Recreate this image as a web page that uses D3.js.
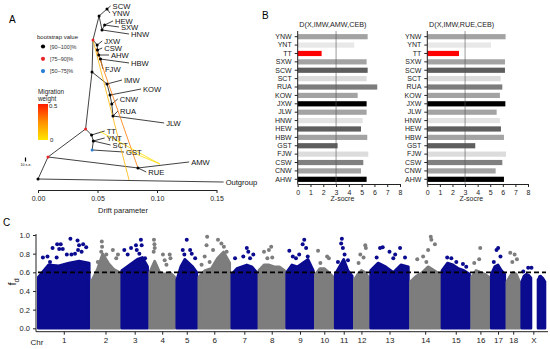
<!DOCTYPE html>
<html>
<head>
<meta charset="utf-8">
<script src="https://cdn.jsdelivr.net/npm/d3@7"></script>
<style>
  body { margin: 0; background: #fff; }
  svg { display: block; font-family: "Liberation Sans", Arial, sans-serif; }
</style>
</head>
<body>
<svg id="fig" width="550" height="349"></svg>
<script>
// ---------- data: panel A (treemix tree) ----------
var nodeId = ["root","Outgroup","n1","nRUE","RUE","AMW","n2","nTT","TT","nY","YNT","SCT","nB","GST",
  "n3","a","IMW","b","KOW","c","CNW","d","RUA","JLW","T","U","u2","SCW","YNW","V","v2","HEW","SXW","HNW",
  "j1","JXW","j2","CSW","j3","AHW","j4","HBW","FJW"];
var nodeParent = [null,"root","root","n1","nRUE","nRUE","n1","n2","nTT","nTT","nY","nY","nY","nB",
  "n2","n3","a","a","b","b","c","c","d","d","n3","T","U","u2","u2","U","V","v2","v2","V",
  "T","j1","j1","j2","j2","j3","j3","j4","j4"];
var nodeDrift = [0,0.156,0.0084,0.084,0.091,0.127,0.040,0.045,0.056,0.0465,0.056,0.061,0.0455,0.0723,
  0.0454,0.058,0.0706,0.0605,0.0866,0.062,0.067,0.063,0.0672,0.106,0.0462,0.0513,0.058,0.061,0.0605,0.0538,0.056,0.063,0.068,0.0765,
  0.0497,0.054,0.050,0.054,0.051,0.0597,0.0525,0.0765,0.0546];
// vertical order of the tree, in row units
var nodeRow = [29.17,29.67,25.5,27.33,28,26.33,20.83,21.83,21.17,22.83,22.33,23.5,24.33,24.67,
  11.33,13.33,12.67,15.17,14.17,16.67,15.83,18.67,17.83,19.83,6,2,0.83,0.33,1.5,4.33,3.5,2.83,3.83,5,
  6.83,6.17,7.67,7.33,8.5,8.5,9.17,9.83,10.83];
// bootstrap class of internal nodes: 3 = [90-100], 2 = [75-90], 1 = [50-75]
var nodeBoot = [3,0,2,3,0,0,2,3,0,3,0,0,1,0,
  3,3,0,3,0,3,0,3,0,0,2,3,3,0,0,3,3,0,0,0,
  3,0,3,0,3,0,3,0,0];
var migFromDrift = [0.0462,0.0487,0.0521,0.0743];
var migFromRow = [6,7.33,21.25,24.33];
var migToDrift = [0.0765,0.084,0.1025,0.1025];
var migToRow = [29.33,27.33,26.67,26.67];
var migWeight = [0.14,0.3,0.03,0.03];
var driftTicks = [0,0.05,0.10,0.15];

// ---------- data: panel B (D statistics) ----------
var popRows = ["YNW","YNT","TT","SXW","SCW","SCT","RUA","KOW","JXW","JLW","HNW","HEW","HBW","GST","FJW","CSW","CNW","AHW"];
var zAMW = [5.47,4.42,1.87,5.39,5.47,5.39,6.22,4.69,5.39,5.39,5.08,4.95,5.44,3.12,5.52,5.13,4.95,5.39];
var zRUE = [6.22,5.06,2.52,6.17,6.17,5.83,5.96,5.77,6.2,5.51,5.77,5.85,6.09,3.81,6.25,5.96,5.43,6.09];
var barColors = ["#a3a3a3","#e8e8e8","#ff0000","#a3a3a3","#5e5e5e","#dcdcdc","#7c7c7c","#a3a3a3","#000000",
  "#a3a3a3","#e3e3e3","#5e5e5e","#a3a3a3","#5e5e5e","#dcdcdc","#808080","#a3a3a3","#000000"];
var zTicks = [0,1,2,3,4,5,6,7,8];

// ---------- data: panel C (fd scan) ----------
var chrName = ["1","2","3","4","5","6","7","8","9","10","11","12","13","14","15","16","17","18","X"];
var chrLen = [275,153,140,135,108,167,135,139,144,96,92,77,204,159,149,95,73,69,126]; // Mb
var chrGap = 11;
var chrTop = [
  [0.55,0.68,0.67,0.70,0.72,0.70],
  [0.50,0.62,0.80,0.70,0.63,0.60],
  [0.62,0.66,0.70,0.74,0.76,0.66],
  [0.60,0.72,0.60,0.58,0.60,0.55],
  [0.52,0.66,0.74,0.70,0.66,0.60],
  [0.55,0.62,0.64,0.75,0.82,0.70],
  [0.58,0.64,0.66,0.68,0.66,0.60],
  [0.62,0.68,0.68,0.66,0.66,0.62],
  [0.60,0.68,0.66,0.70,0.74,0.62],
  [0.58,0.64,0.64,0.60,0.55],
  [0.58,0.66,0.74,0.62,0.56],
  [0.52,0.58,0.62,0.60,0.55],
  [0.62,0.70,0.66,0.60,0.68,0.66],
  [0.50,0.56,0.60,0.66,0.62,0.58],
  [0.62,0.70,0.68,0.64,0.62,0.58],
  [0.55,0.62,0.60,0.58,0.55],
  [0.58,0.66,0.68,0.62,0.58],
  [0.50,0.56,0.60,0.58,0.50],
  [0.50,0.56,0.58,0.57,0.54,null,null,0.52,0.56,0.54,0.50]
];
var chrOut = [
  [[0.09,0.76],[0.18,0.77],[0.28,0.86],[0.37,0.90],[0.44,0.90],[0.41,0.85],[0.48,0.85],[0.63,0.96],[0.77,0.94],[0.80,0.89],[0.88,0.90],[0.94,0.87],[0.78,0.84],[0.85,0.82],[0.56,0.79],[0.65,0.79],[0.72,0.80],[0.36,0.76],[0.23,0.71]],
  [[0.37,0.93],[0.38,0.875],[0.35,0.82],[0.53,0.79],[0.76,0.84],[0.88,0.75],[0.94,0.79],[0.23,0.71]],
  [[0.10,0.84],[0.23,0.79],[0.36,0.86],[0.55,0.89],[0.58,0.84],[0.74,0.95],[0.77,0.89],[0.90,0.75],[0.68,0.80]],
  [[0.17,0.95],[0.19,0.90],[0.20,0.86],[0.16,0.82],[0.53,0.79],[0.80,0.79],[0.83,0.75],[0.67,0.68],[0.60,0.73]],
  [[0.50,0.95],[0.30,0.84],[0.38,0.79],[0.75,0.80],[0.67,0.84],[0.92,0.75]],
  [[0.27,0.98],[0.25,0.89],[0.19,0.77],[0.09,0.68],[0.62,0.95],[0.73,0.91],[0.81,0.875],[0.90,0.82],[0.46,0.84],[0.35,0.71]],
  [[0.13,0.75],[0.60,0.86],[0.66,0.82],[0.46,0.77],[0.86,0.79],[0.73,0.75]],
  [[0.20,0.82],[0.48,0.875],[0.39,0.84],[0.52,0.76],[0.33,0.75]],
  [[0.10,0.83],[0.23,0.77],[0.35,0.75],[0.60,0.90],[0.66,0.95],[0.73,0.86],[0.79,0.77],[0.47,0.79]],
  [[0.15,0.83],[0.66,0.77],[0.76,0.75],[0.28,0.70]],
  [[0.39,0.96],[0.35,0.91],[0.45,0.86],[0.55,0.79],[0.16,0.71],[0.75,0.73]],
  [[0.77,0.89],[0.81,0.86],[0.42,0.79],[0.65,0.76],[0.30,0.70]],
  [[0.25,0.86],[0.32,0.87],[0.50,0.82],[0.78,0.86],[0.65,0.79],[0.91,0.76],[0.16,0.76],[0.60,0.75]],
  [[0.69,0.98],[0.71,0.95],[0.83,0.90],[0.60,0.84],[0.43,0.77],[0.23,0.74],[0.54,0.71]],
  [[0.19,0.76],[0.34,0.75],[0.76,0.69],[0.88,0.66],[0.52,0.71]],
  [[0.49,0.86],[0.43,0.74],[0.15,0.70]],
  [[0.51,0.86],[0.39,0.84],[0.19,0.71],[0.68,0.77]],
  [[0.27,0.81],[0.61,0.79],[0.79,0.74],[0.43,0.71]],
  [[0.28,0.65],[0.42,0.65],[0.79,0.55],[0.07,0.61]]
];
var fdThreshold = 0.6;
var fdTicks = [0,0.2,0.4,0.6,0.8,1.0];

var svg = d3.select("#fig");

function panelLabel(txt, x, y) {
  svg.append("text").attr("x", x).attr("y", y).attr("font-size", 10).text(txt);
}

// ================= Panel A =================
panelLabel("A", 9, 23);
var gA = svg.append("g");
var xDrift = d3.scaleLinear().domain([0, 0.15]).range([38, 216.5]);
var yTree = d3.scaleLinear().domain([0, 30]).range([4, 184]);
var migColor = d3.scaleLinear().domain([0, 0.25, 0.5]).range(["#ffe600", "#ff9000", "#ff1a00"]);

var idx = {};
nodeId.forEach((id, i) => idx[id] = i);
var isParent = {};
nodeParent.forEach(p => { if (p) isParent[p] = true; });

// branches
nodeId.forEach((id, i) => {
  var p = nodeParent[i];
  if (p === null) return;
  var j = idx[p];
  gA.append("line")
    .attr("x1", xDrift(nodeDrift[j])).attr("y1", yTree(nodeRow[j]))
    .attr("x2", xDrift(nodeDrift[i])).attr("y2", yTree(nodeRow[i]))
    .attr("stroke", "#111").attr("stroke-width", 0.8);
});

// migration edges
migWeight.forEach((w, i) => {
  gA.append("line")
    .attr("x1", xDrift(migFromDrift[i])).attr("y1", yTree(migFromRow[i]))
    .attr("x2", xDrift(migToDrift[i])).attr("y2", yTree(migToRow[i]))
    .attr("stroke", migColor(w)).attr("stroke-width", 0.8);
});

// bootstrap dots
var bootColor = {3: "#000000", 2: "#e8262a", 1: "#2a7fd4"};
nodeId.forEach((id, i) => {
  if (!nodeBoot[i]) return;
  gA.append("circle")
    .attr("cx", xDrift(nodeDrift[i])).attr("cy", yTree(nodeRow[i]))
    .attr("r", 1.5).attr("fill", bootColor[nodeBoot[i]]);
});

// leaf labels
nodeId.forEach((id, i) => {
  if (isParent[id]) return;
  gA.append("text")
    .attr("x", xDrift(nodeDrift[i]) + 2)
    .attr("y", yTree(nodeRow[i]) + 2.8)
    .attr("font-size", 7.6).attr("fill", "#111")
    .text(id);
});

// drift axis
var axA = gA.append("g").attr("transform", "translate(0,190)")
  .call(d3.axisBottom(xDrift).tickValues(driftTicks).tickFormat(d3.format(".2f")).tickSize(3).tickSizeOuter(0));
axA.selectAll("text").attr("font-size", 7).attr("font-family", null).attr("fill", "#222");
axA.selectAll("path,line").attr("stroke", "#222");
gA.append("text").attr("x", 123).attr("y", 213).attr("text-anchor", "middle")
  .attr("font-size", 7.5).attr("fill", "#222").text("Drift parameter");

// scale bar
gA.append("line").attr("x1", 25.5).attr("x2", 25.5).attr("y1", 157.5).attr("y2", 161.5)
  .attr("stroke", "#000").attr("stroke-width", 1.2);
gA.append("text").attr("x", 26).attr("y", 166).attr("text-anchor", "middle")
  .attr("font-size", 3.6).text("10 s.e.");

// bootstrap legend
gA.append("text").attr("x", 37).attr("y", 39).attr("font-size", 6).attr("fill", "#222").text("bootstrap value");
var bootLabels = ["[90\u2013100]%", "[75\u201390]%", "[50\u201375]%"];
[3, 2, 1].forEach((b, i) => {
  gA.append("circle").attr("cx", 43).attr("cy", 46.5 + i * 12.3).attr("r", 2.1).attr("fill", bootColor[b]);
  gA.append("text").attr("x", 50).attr("y", 48.5 + i * 12.3).attr("font-size", 5.5).attr("fill", "#333").text(bootLabels[i]);
});

// migration weight legend
gA.append("text").attr("x", 38).attr("y", 94).attr("font-size", 6.3).attr("fill", "#222").text("Migration");
gA.append("text").attr("x", 38).attr("y", 101).attr("font-size", 6.3).attr("fill", "#222").text("weight");
var grad = svg.append("defs").append("linearGradient").attr("id", "mw")
  .attr("x1", 0).attr("y1", 1).attr("x2", 0).attr("y2", 0);
[0, 0.25, 0.5].forEach(w => {
  grad.append("stop").attr("offset", (w / 0.5 * 100) + "%").attr("stop-color", migColor(w));
});
gA.append("rect").attr("x", 38).attr("y", 104).attr("width", 10).attr("height", 36).attr("fill", "url(#mw)");
gA.append("text").attr("x", 49).attr("y", 107.5).attr("font-size", 6).attr("fill", "#222").text("0.5");
gA.append("text").attr("x", 50).attr("y", 142).attr("font-size", 6).attr("fill", "#222").text("0");

// ================= Panel B =================
panelLabel("B", 262, 19);
var yRow = d3.scaleBand().domain(popRows).range([32.5, 183.5]).paddingInner(0.38).paddingOuter(0.19);

function drawDChart(x0, x1, vals, title) {
  var g = svg.append("g");
  var xz = d3.scaleLinear().domain([0, 8]).range([x0, x1]);
  g.append("text").attr("x", (x0 + x1) / 2 - 16).attr("y", 27).attr("text-anchor", "middle")
    .attr("font-size", 7.2).attr("fill", "#222").text(title);
  g.selectAll("rect").data(popRows).enter().append("rect")
    .attr("x", xz(0)).attr("y", d => yRow(d))
    .attr("width", (d, i) => xz(vals[i]) - xz(0))
    .attr("height", yRow.bandwidth())
    .attr("fill", (d, i) => barColors[i]);
  g.append("line").attr("x1", xz(3)).attr("x2", xz(3)).attr("y1", 31).attr("y2", 184)
    .attr("stroke", "#555").attr("stroke-width", 0.6);
  var ya = g.append("g").attr("transform", "translate(" + x0 + ",0)")
    .call(d3.axisLeft(yRow).tickSize(3).tickSizeOuter(0));
  ya.select("path").attr("d", "M0,31V184.5");
  ya.selectAll("text").attr("font-size", 7).attr("font-family", null).attr("fill", "#222");
  ya.selectAll("path,line").attr("stroke", "#222");
  var xa = g.append("g").attr("transform", "translate(0,184)")
    .call(d3.axisBottom(xz).tickValues(zTicks).tickSize(3).tickSizeOuter(0));
  xa.selectAll("text").attr("font-size", 7).attr("font-family", null).attr("fill", "#222");
  xa.selectAll("path,line").attr("stroke", "#222");
  g.append("text").attr("x", xz(3.5)).attr("y", 201).attr("text-anchor", "middle")
    .attr("font-size", 7).attr("fill", "#222").text("Z-socre");
}
drawDChart(297.7, 400, zAMW, "D(X,IMW,AMW,CEB)");
drawDChart(427.3, 528, zRUE, "D(X,IMW,RUE,CEB)");

// ================= Panel C =================
panelLabel("C", 3, 226);
var gC = svg.append("g");
var chrStart = [];
var acc = 0;
chrLen.forEach((l, i) => { chrStart.push(acc); acc += l + (i < chrLen.length - 1 ? chrGap : 0); });
var xGen = d3.scaleLinear().domain([0, acc]).range([38.3, 545]);
var yFd = d3.scaleLinear().domain([0, 1]).range([328.3, 235]);
var blue = "#0b0b90", grey = "#7d7d7d";

chrName.forEach((c, i) => {
  var col = i % 2 === 0 ? blue : grey;
  var prof = chrTop[i];
  var n = prof.length;
  var area = d3.area()
    .defined(d => d !== null)
    .x((d, k) => xGen(chrStart[i] + chrLen[i] * k / (n - 1)))
    .y0(yFd(0)).y1(d => yFd(d));
  gC.append("path").attr("d", area(prof))
    .attr("fill", col).attr("stroke", col).attr("stroke-width", 2.6).attr("stroke-linejoin", "round");
  chrOut[i].forEach(p => {
    gC.append("circle")
      .attr("cx", xGen(chrStart[i] + chrLen[i] * p[0]))
      .attr("cy", yFd(p[1]))
      .attr("r", 2).attr("fill", col);
  });
});

// threshold
gC.append("line").attr("x1", 38).attr("x2", 546).attr("y1", yFd(fdThreshold)).attr("y2", yFd(fdThreshold))
  .attr("stroke", "#000").attr("stroke-width", 1.8).attr("stroke-dasharray", "5,3");

// axes
var yaC = gC.append("g").attr("transform", "translate(36,0)")
  .call(d3.axisLeft(yFd).tickValues(fdTicks).tickFormat(d3.format(".1f")).tickSize(3).tickSizeOuter(0));
yaC.select("path").attr("d", "M0,234V331.7");
yaC.selectAll("text").attr("font-size", 7.5).attr("font-family", null).attr("fill", "#222");
yaC.selectAll("path,line").attr("stroke", "#222");

var chrMid = chrName.map((c, i) => chrStart[i] + chrLen[i] / 2);
var xaC = gC.append("g").attr("transform", "translate(0,331.7)")
  .call(d3.axisBottom(xGen).tickValues(chrMid).tickFormat((d, i) => chrName[i]).tickSize(3).tickSizeOuter(0));
xaC.select("path").attr("d", "M36,0H548");
xaC.selectAll("text").attr("font-size", 8).attr("font-family", null).attr("fill", "#222");
xaC.selectAll("path,line").attr("stroke", "#222");
gC.append("text").attr("x", 37).attr("y", 345).attr("text-anchor", "middle")
  .attr("font-size", 8).attr("fill", "#222").text("Chr");

var fdLab = gC.append("text").attr("transform", "translate(16,282) rotate(-90)")
  .attr("text-anchor", "middle").attr("font-size", 11).attr("fill", "#222");
fdLab.append("tspan").text("f");
fdLab.append("tspan").attr("font-size", 7.5).attr("dy", 3).text("d");
</script>
</body>
</html>
